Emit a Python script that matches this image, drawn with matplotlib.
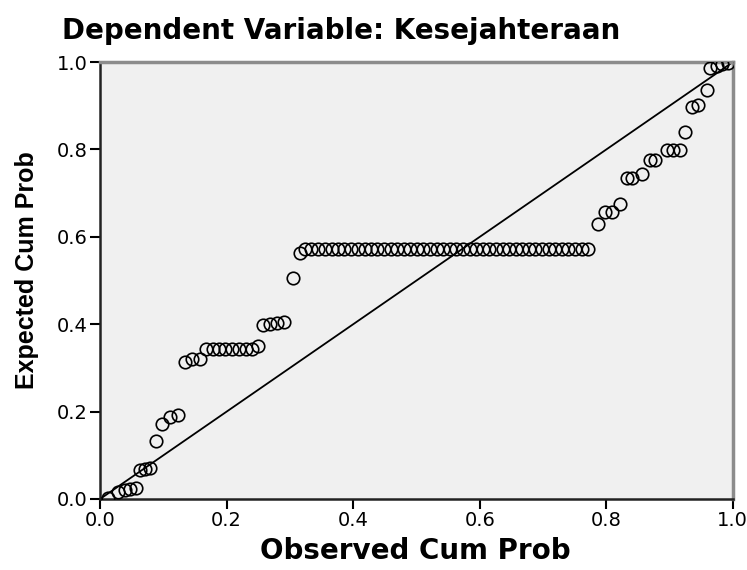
import matplotlib
matplotlib.use("Agg")
import matplotlib.pyplot as plt

plt.rcParams['font.family'] = ['DejaVu Sans']

title = "Dependent Variable: Kesejahteraan"
xlabel = "Observed Cum Prob"
ylabel = "Expected Cum Prob"
ticks = [0.0, 0.2, 0.4, 0.6, 0.8, 1.0]
tick_labels = ["0.0", "0.2", "0.4", "0.6", "0.8", "1.0"]

# lower part
obs_low = [0.013, 0.028, 0.039, 0.047, 0.057, 0.063, 0.071, 0.079, 0.088, 0.098,
           0.110, 0.123, 0.134, 0.145, 0.158, 0.167, 0.178, 0.188, 0.198, 0.209,
           0.219, 0.230, 0.240, 0.250, 0.258, 0.269, 0.279, 0.290, 0.305, 0.316]
exp_low = [0.003, 0.016, 0.020, 0.023, 0.025, 0.066, 0.068, 0.071, 0.133, 0.172,
           0.188, 0.192, 0.314, 0.321, 0.321, 0.343, 0.343, 0.343, 0.343, 0.343,
           0.343, 0.343, 0.343, 0.350, 0.398, 0.400, 0.403, 0.405, 0.506, 0.563]

# flat run
obs_mid = [0.324, 0.334, 0.345, 0.355, 0.366, 0.376, 0.386, 0.397, 0.407, 0.418,
           0.428, 0.438, 0.449, 0.459, 0.470, 0.480, 0.490, 0.501, 0.511, 0.522,
           0.532, 0.542, 0.553, 0.563, 0.574, 0.584, 0.594, 0.605, 0.615, 0.626,
           0.636, 0.646, 0.657, 0.667, 0.678, 0.688, 0.698, 0.709, 0.719, 0.730,
           0.740, 0.750, 0.761, 0.771]
exp_mid = [0.572] * len(obs_mid)

# upper part
obs_high = [0.787, 0.798, 0.809, 0.821, 0.833, 0.841, 0.856, 0.869, 0.877, 0.896,
            0.905, 0.916, 0.924, 0.935, 0.945, 0.959, 0.964, 0.975, 0.983, 0.992]
exp_high = [0.629, 0.657, 0.657, 0.675, 0.735, 0.735, 0.745, 0.775, 0.775, 0.799,
            0.799, 0.799, 0.840, 0.897, 0.902, 0.936, 0.986, 0.991, 0.995, 0.998]

obs = obs_low + obs_mid + obs_high
exp = exp_low + exp_mid + exp_high

fig = plt.figure(figsize=(7.47, 5.70), dpi=100)
ax = fig.add_axes([0.134, 0.1246, 0.847, 0.7664])
ax.set_facecolor('#f0f0f0')

ax.plot([0, 1], [0, 1], color='black', lw=1.3, zorder=2)
ax.plot(obs, exp, 'o', mfc='none', mec='black', ms=9, mew=1.2, zorder=3)

ax.set_xlim(0, 1)
ax.set_ylim(0, 1)
ax.set_xticks(ticks)
ax.set_xticklabels(tick_labels)
ax.set_yticks(ticks)
ax.set_yticklabels(tick_labels)
ax.tick_params(direction='out', length=7, width=1.5, labelsize=14, pad=2)

for s in ['top', 'right']:
    ax.spines[s].set_color('#8c8c8c')
    ax.spines[s].set_linewidth(2.5)
for s in ['left', 'bottom']:
    ax.spines[s].set_color('#222222')
    ax.spines[s].set_linewidth(1.8)

fig.text(415 / 747, 1 - 551 / 570, xlabel, fontsize=20, fontweight='bold',
         ha='center', va='center')
fig.text(27 / 747, 1 - 270 / 570, ylabel, fontsize=18, fontweight='bold',
         family='Liberation Sans', rotation=90, ha='center', va='center')
fig.text(62 / 747, 1 - 31 / 570, title, fontsize=20, fontweight='bold',
         ha='left', va='center')

fig.savefig("out.png", dpi=100)
